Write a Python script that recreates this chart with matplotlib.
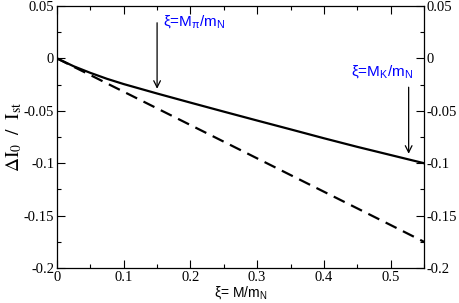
import numpy as np
import matplotlib
matplotlib.use("Agg")
import matplotlib.pyplot as plt
from matplotlib.ticker import MultipleLocator, FuncFormatter

plt.rcParams['font.family'] = 'Liberation Serif'
plt.rcParams['mathtext.fontset'] = 'custom'
plt.rcParams['mathtext.rm'] = 'Liberation Sans'
plt.rcParams['mathtext.it'] = 'Liberation Sans:italic'

# curve values
xi = [0.0, 0.025, 0.05, 0.075, 0.1, 0.15, 0.2, 0.25, 0.3, 0.35, 0.4, 0.45, 0.5, 0.55]
full = [0.0, -0.0075, -0.0138, -0.0195, -0.0245, -0.0335, -0.0422, -0.0508, -0.0593,
        -0.0677, -0.0762, -0.0844, -0.0922, -0.1]
linear = [0.0, -0.008, -0.0159, -0.0239, -0.0318, -0.0477, -0.0636, -0.0795, -0.0954,
          -0.1113, -0.1272, -0.1431, -0.159, -0.175]

# arrow markers: x, start y, end y
arrow_x = [0.15, 0.527]
arrow_y0 = [0.034, -0.0275]
arrow_y1 = [-0.029, -0.091]
arrow_labels = [r'ξ=M$_\mathregular{\pi}$/m$_\mathregular{N}$',
                r'ξ=M$_\mathregular{K}$/m$_\mathregular{N}$']
label_x = [0.159, 0.44]
label_y = [0.0355, -0.0125]

fig = plt.figure(figsize=(4.59, 3.03), dpi=100)
ax = fig.add_axes([57 / 459, 1 - 268 / 303, 367 / 459, 262 / 303])

ax.plot(xi, full, color='black', lw=1.6)
ax.plot(xi, linear, color='black', lw=1.6, dashes=(5.5, 3.2))

for x, y0, y1 in zip(arrow_x, arrow_y0, arrow_y1):
    ax.annotate('', xy=(x, y1), xytext=(x, y0),
                arrowprops=dict(arrowstyle='->', color='black', lw=0.9,
                                shrinkA=0, shrinkB=0, mutation_scale=12))
for x, y, s in zip(label_x, label_y, arrow_labels):
    ax.text(x, y, s, color='#0000ff', fontsize=11, va='center', ha='left',
            family='Liberation Sans')

ax.set_xlim(0, 0.55)
ax.set_ylim(-0.2, 0.05)
ax.xaxis.set_major_locator(MultipleLocator(0.1))
ax.xaxis.set_minor_locator(MultipleLocator(0.05))
ax.yaxis.set_major_locator(MultipleLocator(0.05))
ax.yaxis.set_minor_locator(MultipleLocator(0.025))
ax.xaxis.set_major_formatter(FuncFormatter(lambda v, p: '%g' % round(v, 3)))
ax.yaxis.set_major_formatter(FuncFormatter(lambda v, p: '%g' % round(v, 3)))
ax.tick_params(which='both', direction='in', top=True, right=True, labelright=True,
               width=0.8, labelsize=10.5, pad=2)
ax.tick_params(which='major', length=6)
ax.tick_params(which='minor', length=3)
for sp in ax.spines.values():
    sp.set_linewidth(0.9)

ax.set_xlabel(r'ξ= M/m$_\mathregular{N}$', fontsize=10, family='Liberation Sans', labelpad=0)
ax.set_ylabel(r'$\mathrm{\Delta I_0\ \ /\ \ I_{st}}$', fontsize=14, math_fontfamily='stix',
              labelpad=0)

fig.savefig('out.png', dpi=100)
